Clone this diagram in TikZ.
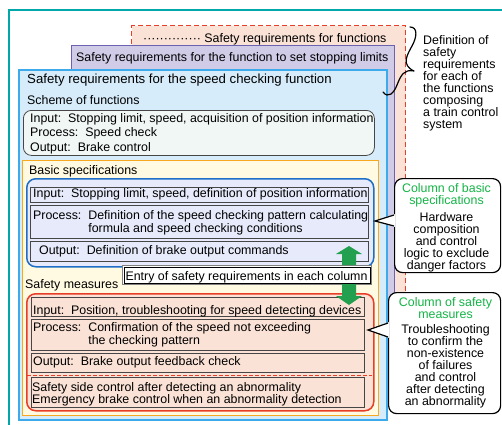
\documentclass[tikz,border=0pt]{standalone}
\usepackage{fontspec}
\setmainfont{Liberation Sans}
\definecolor{tealframe}{RGB}{0,168,172}
\definecolor{redln}{RGB}{232,62,40}
\definecolor{redfill}{RGB}{251,226,214}
\definecolor{purpln}{RGB}{108,98,178}
\definecolor{purpfill}{RGB}{208,204,232}
\definecolor{lbln}{RGB}{60,170,235}
\definecolor{lbfill}{RGB}{214,236,250}
\definecolor{schfill}{RGB}{241,247,245}
\definecolor{yelln}{RGB}{246,168,32}
\definecolor{yelfill}{RGB}{255,250,225}
\definecolor{bluln}{RGB}{30,110,200}
\definecolor{blufill}{RGB}{230,234,250}
\definecolor{boxgray}{RGB}{70,70,70}
\definecolor{arrgreen}{RGB}{34,160,80}
\definecolor{txtgreen}{RGB}{20,180,70}
\begin{document}
\begin{tikzpicture}[x=1pt,y=-1pt,
  txt/.style={font=\fontsize{12.4}{12}\selectfont, inner sep=0pt, anchor=base west, align=left},
  ctxt/.style={font=\fontsize{12.4}{12}\selectfont, inner sep=0pt, anchor=base, align=center},
  bx/.style={inner sep=0pt, anchor=north west},
  inbox/.style={bx, draw=boxgray, line width=0.8pt},
  callout/.style={bx, draw=black, line width=1.2pt, fill=white, rounded corners=8pt}]
\useasboundingbox (0,0) rectangle (502,424);
% outer frame
\draw[tealframe, line width=1.2pt] (9,430) -- (9,10) -- (510,10);
% stacked requirement boxes
\node[bx, draw=redln, fill=redfill, line width=1pt, dash pattern=on 5pt off 3pt,
      minimum width=274pt, minimum height=375pt] (fr) at (131,25) {};
\node[txt] (trd) at (143,42) {·············· Safety requirements for functions};
\node[bx, draw=purpln, fill=purpfill, line width=1pt,
      minimum width=323pt, minimum height=355pt] (fp) at (71,45) {};
\node[txt] (tpu) at (76,61.5) {Safety requirements for the function to set stopping limits};
\node[bx, draw=lbln, fill=lbfill, line width=1.8pt,
      minimum width=368pt, minimum height=350pt] (fb) at (18,69) {};
\node[txt, font=\fontsize{13.2}{12}\selectfont] (tlb) at (27,83.5) {Safety requirements for the speed checking function};
\node[txt] (tsch) at (27,104.5) {Scheme of functions};
% scheme of functions
\node[bx, draw=boxgray, fill=schfill, line width=0.8pt, rounded corners=8pt,
      minimum width=351pt, minimum height=45pt] (sch) at (23,110) {};
\node[txt, font=\fontsize{12.4}{14.3}\selectfont] (schtxt) at (30,151)
  {Input:\ \ Stopping limit, speed, acquisition of position information\\
   Process:\ \ Speed check\\
   Output:\ \ Brake control};
% yellow column area
\node[bx, draw=yelln, fill=yelfill, line width=1.4pt,
      minimum width=356pt, minimum height=255pt] (fy) at (22,160) {};
\node[txt] (tbs) at (29,174.5) {Basic specifications};
% basic specifications
\node[bx, draw=bluln, fill=blufill, line width=1.5pt, rounded corners=9pt,
      minimum width=347pt, minimum height=88pt] (fbs) at (26,178) {};
\node[inbox, fill=blufill, minimum width=338pt, minimum height=15pt] (bi) at (30,187) {};
\node[txt] (bit) at (33,197) {Input:\ \ Stopping limit, speed, definition of position information};
\node[inbox, fill=blufill, minimum width=338pt, minimum height=33pt] (bp) at (30,205) {};
\node[txt, font=\fontsize{12.4}{12.5}\selectfont] (bpt) at (33,232)
  {Process:\ \ Definition of the speed checking pattern calculating\\
   \phantom{Process:\ \ }formula and speed checking conditions};
\node[inbox, fill=blufill, minimum width=338pt, minimum height=20pt] (bo) at (30,241) {};
\node[txt] (bot) at (39,254.5) {Output:\ \ Definition of brake output commands};
% safety measures
\node[txt] (tsm) at (25,288) {Safety measures};
\node[bx, draw=redln, fill=redfill, line width=1.5pt, rounded corners=9pt,
      minimum width=347pt, minimum height=117pt] (frs) at (26,293) {};
\node[inbox, fill=redfill, minimum width=333pt, minimum height=19pt] (si) at (31,297) {};
\node[txt] (sit) at (33,314) {Input:\ \ Position, troubleshooting for speed detecting devices};
\node[inbox, fill=redfill, minimum width=333pt, minimum height=31pt] (sp) at (31,319) {};
\node[txt, font=\fontsize{12.4}{13.3}\selectfont] (spt) at (33,344.5)
  {Process:\ \ Confirmation of the speed not exceeding\\
   \phantom{Process:\ \ }the checking pattern};
\node[inbox, fill=redfill, minimum width=333pt, minimum height=19pt] (so) at (31,353) {};
\node[txt] (sot) at (33,365.5) {Output:\ \ Brake output feedback check};
\draw[redln, line width=0.9pt, dash pattern=on 4pt off 2pt] (27,375) -- (372,375);
\node[inbox, fill=redfill, minimum width=333pt, minimum height=30pt] (sl) at (31,377) {};
\node[txt] (slt) at (32,403.5)
  {Safety side control after detecting an abnormality\\
   Emergency brake control when an abnormality detection};
% entry box
\node[bx, draw=gray, fill=white, line width=0.8pt, minimum width=249pt, minimum height=19pt] (en) at (122,265) {};
\node[bx, draw=black, line width=0.8pt, minimum width=246pt, minimum height=16pt] (en2) at (123.5,266.5) {};
\node[ctxt] (ent) at (246.5,280.5) {Entry of safety requirements in each column};
% green block arrows
\fill[arrgreen] (342,265) -- (342,254) -- (336,254) -- (349,246) -- (362,254) -- (356,254) -- (356,265) -- cycle;
\fill[arrgreen] (342,284) -- (342,296) -- (336,296) -- (349,305) -- (362,296) -- (356,296) -- (356,284) -- cycle;
% brace
\draw[black, line width=1.2pt, line cap=round, line join=round]
  (410,27) .. controls (418,27) and (417,37) .. (412,46)
  .. controls (407,55) and (401,65) .. (414,71)
  .. controls (404,69) and (401,75) .. (397,85)
  .. controls (394,93) and (388,99) .. (383,92);
\node[txt] (bracetxt) at (423,128.5)
  {Definition of\\safety\\requirements\\for each of\\the functions\\composing\\a train control\\system};
% callout 1
\node[callout, minimum width=106pt, minimum height=94pt] (c1) at (394,178) {};
\fill[white] (395.2,214) -- (375,221) -- (395.2,227) -- cycle;
\draw[black, line width=1.2pt, line join=miter] (394,215) -- (375,221) -- (394,226);
\node[ctxt, text=txtgreen] (c1g) at (446.5,204.5) {Column of basic\\specifications};
\node[ctxt] (c1t) at (446.5,269.5) {Hardware\\composition\\and control\\logic to exclude\\danger factors};
% callout 2
\node[callout, minimum width=112pt, minimum height=121pt] (c2) at (388,292) {};
\fill[white] (389.2,322) -- (368,330) -- (389.2,338) -- cycle;
\draw[black, line width=1.2pt, line join=miter] (388,323) -- (368,330) -- (388,337);
\node[ctxt, text=txtgreen] (c2g) at (445.5,318) {Column of safety\\measures};
\node[ctxt] (c2t) at (445.5,405) {Troubleshooting\\to confirm the\\non-existence\\of failures\\and control\\after detecting\\an abnormality};
\end{tikzpicture}
\end{document}
